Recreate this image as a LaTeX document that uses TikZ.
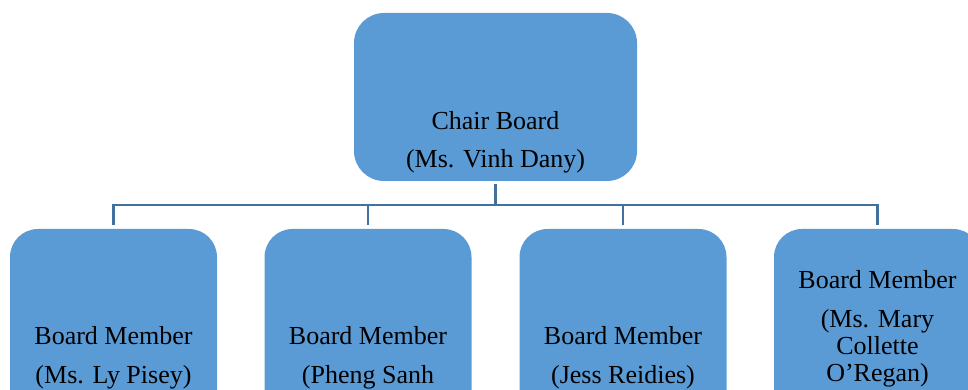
\documentclass[tikz,border=0pt]{standalone}
\usepackage{fontspec}
\setmainfont{Liberation Serif}
\usepackage{tikz}
\usetikzlibrary{positioning}
\definecolor{boxblue}{HTML}{5B9BD5}
\definecolor{lineblue}{HTML}{41719C}

\begin{document}
\begin{tikzpicture}[x=1pt,y=1pt,
    chairbox/.style={fill=boxblue,rounded corners=30pt,minimum width=283pt,minimum height=168pt},
    memberbox/.style={fill=boxblue,rounded corners=28pt,minimum width=207pt,minimum height=260pt},
    boxtext/.style={align=center,inner sep=0pt,font=\fontsize{26}{27}\selectfont},
    conn/.style={draw=lineblue,line width=2.6pt,shorten <=3pt,shorten >=4pt}]
 \useasboundingbox (0,0) rectangle (968,390);
 \clip (0,0) rectangle (968,390);
    %the boxes
    \node[chairbox] (chair) at (495.5,293) {};
    \node[memberbox] (m1) at (113.5,31) {};
    \node[memberbox] (m2) at (368,31) {};
    \node[memberbox] (m3) at (623,31) {};
    \node[memberbox] (m4) at (877.5,31) {};

    %the texts
    \node[boxtext] (chairtxt) at (495.5,248) {Chair Board\\[11pt](Ms. Vinh Dany)};
    \node[boxtext] (m1txt) at (113.5,32.5) {Board Member\\[12pt](Ms. Ly Pisey)};
    \node[boxtext] (m2txt) at (368,32.5) {Board Member\\[12pt](Pheng Sanh};
    \node[boxtext] (m3txt) at (623,32.5) {Board Member\\[12pt](Jess Reidies)};
    \node[boxtext] (m4txt) at (877.5,61.5) {Board Member\\[12pt](Ms. Mary\\Collette\\O’Regan)};

    %the lines
    \foreach \m in {m1,m2,m3,m4}
       \draw[conn] (chair.south) -- ++(0,-24) -| (\m.north);
\end{tikzpicture}
\end{document}
